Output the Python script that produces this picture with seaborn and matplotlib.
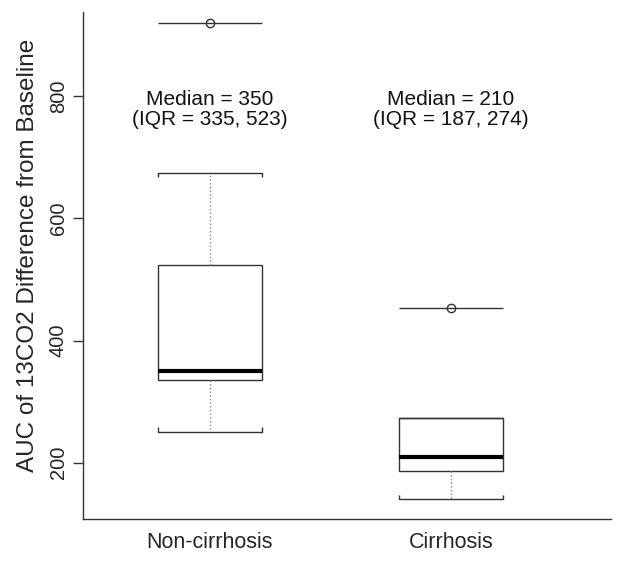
import numpy as np
import pandas as pd
import matplotlib
matplotlib.use('Agg')
import matplotlib.pyplot as plt
import seaborn as sns

# ─────────────────────────────────────────────
# DATA — box summaries
# ─────────────────────────────────────────────
groups    = ['Non-cirrhosis', 'Cirrhosis']
whis_lo   = [251, 140]
q1        = [335, 187]
medians   = [350, 210]
q3        = [523, 274]
whis_hi   = [675, 274]
outliers  = [920, 453]

# smallest sample per group that reproduces these quartiles / whiskers
rows = []
for g, lo, a, m, b, hi, out in zip(groups, whis_lo, q1, medians, q3, whis_hi, outliers):
    for v in [lo, a, a, m, m, b, b, hi, out]:
        rows.append({'group': g, 'auc': v})
df = pd.DataFrame(rows)

BOX_W = 0.43
EDGE = '#333333'

sns.set_style('white')
plt.rcParams['font.family'] = ['Liberation Sans', 'DejaVu Sans']

fig = plt.figure(figsize=(6.29, 5.65), dpi=100)
ax = fig.add_axes([0.132, 0.0814, 0.839, 0.8976])

sns.boxplot(data=df, x='group', y='auc', order=groups, width=BOX_W,
            color='white', linecolor=EDGE, linewidth=1.0, ax=ax,
            medianprops=dict(color='black', linewidth=3.0),
            whiskerprops=dict(color='#888888', linestyle=':', linewidth=1.0),
            capprops=dict(color=EDGE, linewidth=1.0),
            flierprops=dict(marker='o', markerfacecolor='none',
                            markeredgecolor=EDGE, markersize=6, markeredgewidth=1.0),
            capwidths=BOX_W)

# horizontal bar through each outlier, as in the original
for i, out in enumerate(outliers):
    ax.hlines(out, i - BOX_W / 2, i + BOX_W / 2, color=EDGE, linewidth=1.0, zorder=1)

# small bracket legs on the whisker caps
LEG = 7
for i, (lo, a, b, hi) in enumerate(zip(whis_lo, q1, q3, whis_hi)):
    xs = [i - BOX_W / 2, i + BOX_W / 2]
    if hi > b:
        ax.vlines(xs, hi - LEG, hi, color=EDGE, linewidth=1.0)
    if lo < a:
        ax.vlines(xs, lo, lo + LEG, color=EDGE, linewidth=1.0)

# annotations
for i, (m, a, b) in enumerate(zip(medians, q1, q3)):
    ax.text(i, 778, f'Median = {m}\n(IQR = {a}, {b})', ha='center', va='center',
            fontsize=15, linespacing=1.1, color='#111111')

ax.set_xlim(-0.527, 1.664)
ax.set_ylim(108, 938)
ax.set_yticks([200, 400, 600, 800])
ax.tick_params(axis='y', length=7, width=1, color=EDGE, labelsize=14.5,
               pad=4, left=True, labelrotation=90)
for lab in ax.get_yticklabels():
    lab.set_va('center')
ax.tick_params(axis='x', length=0, labelsize=15.5, pad=9)
ax.set_xlabel('')
ax.set_ylabel('AUC of 13CO2 Difference from Baseline', fontsize=17.5)
ax.yaxis.set_label_coords(-0.084, 0.519)

sns.despine(ax=ax)
for s in ['left', 'bottom']:
    ax.spines[s].set_color(EDGE)
    ax.spines[s].set_linewidth(1.0)

fig.savefig('out.png', dpi=100)
